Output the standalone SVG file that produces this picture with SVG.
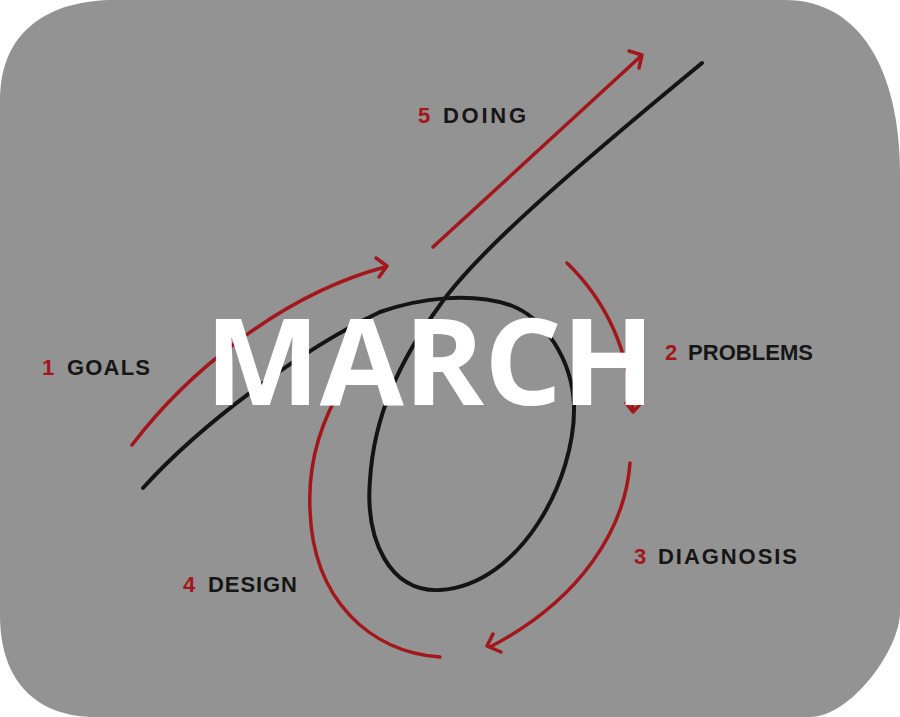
<svg xmlns="http://www.w3.org/2000/svg" width="900" height="717" viewBox="0 0 900 717">
<style>
.blk{fill:none;stroke:#141414;stroke-width:4;stroke-linecap:round;stroke-linejoin:round}
.red{fill:none;stroke:#a3161b;stroke-width:3.5;stroke-linecap:round;stroke-linejoin:round}
.num{font-family:"Liberation Sans",Arial,sans-serif;font-weight:700;font-size:22px;fill:#a3161b}
.lbl{font-family:"Liberation Sans",Arial,sans-serif;font-weight:700;font-size:22px;fill:#161616}
.title{font-family:"Open Sans","Liberation Sans",sans-serif;font-weight:700;font-size:121px;fill:#ffffff}
</style>
<rect x="0" y="0" width="900" height="717" fill="#ffffff"/>
<path id="panel" d="M0,100 C0,30 50,0 115,0 L785,0 C860,0 900,70 900,175 L900,612 C900,650 850,717 810,717 L95,717 C40,717 0,685 0,615 Z" fill="#939393"/>
<g id="connectors">
<path id="loop" class="blk" d="M143,488 C200,425 300,350 380,312 C420,298 470,292 510,305 C545,318 572,360 574,405 C576,480 520,585 440,590 C390,593 365,540 370,480 C374,415 400,360 440,305 C475,255 560,180 702,63"/>
<g id="arrow-goals"><path class="red" d="M132,445 C185,375 280,295 385,267"/><path class="red" d="M376,258 L387,266 L379,277"/></g>
<g id="arrow-problems"><path class="red" d="M567,263 C600,295 628,340 633,410"/><path class="red" d="M626,403 L633,412 L641,403"/></g>
<g id="arrow-diagnosis"><path class="red" d="M630,463 C625,530 580,600 490,647"/><path class="red" d="M493,634 L487,646 L501,652"/></g>
<g id="arrow-design"><path class="red" d="M345,382 C318,425 308,470 310,510 C313,600 370,652 440,657"/></g>
<g id="arrow-doing"><path class="red" d="M433,247 C485,200 560,130 641,56"/><path class="red" d="M629,51 L642,55 L639,68"/></g>
</g>
<g id="node-goals"><text class="num" x="42" y="375">1</text><text class="lbl" x="67" y="375" textLength="83" lengthAdjust="spacing">GOALS</text></g>
<g id="node-problems"><text class="num" x="665" y="360">2</text><text class="lbl" x="688" y="360" textLength="125" lengthAdjust="spacing">PROBLEMS</text></g>
<g id="node-diagnosis"><text class="num" x="634" y="564">3</text><text class="lbl" x="658" y="564" textLength="139" lengthAdjust="spacing">DIAGNOSIS</text></g>
<g id="node-design"><text class="num" x="183" y="592">4</text><text class="lbl" x="208" y="592" textLength="89" lengthAdjust="spacing">DESIGN</text></g>
<g id="node-doing"><text class="num" x="418" y="123">5</text><text class="lbl" x="443" y="123" textLength="83" lengthAdjust="spacing">DOING</text></g>
<g id="node-title"><text class="title" x="205" y="405" textLength="450" lengthAdjust="spacingAndGlyphs">MARCH</text></g>
</svg>
